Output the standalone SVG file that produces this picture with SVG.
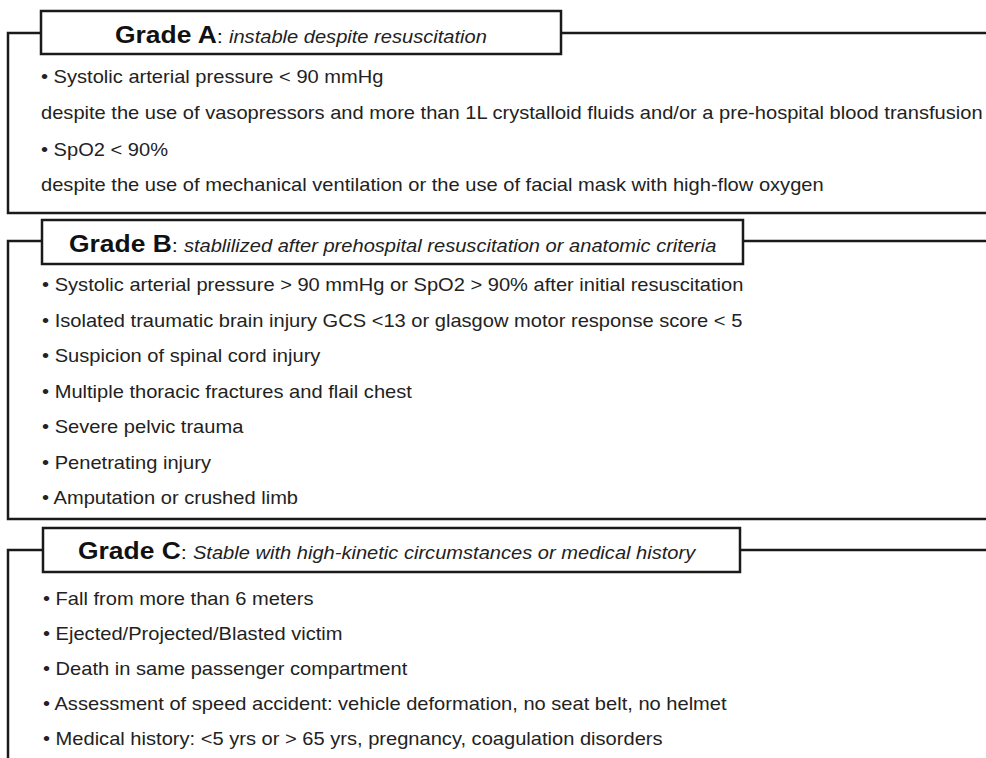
<svg xmlns="http://www.w3.org/2000/svg" width="986" height="758" viewBox="0 0 986 758">
  <style>
    .frame { fill: none; stroke: #1a1a1a; stroke-width: 2.5; }
    .box { fill: #ffffff; stroke: #1a1a1a; stroke-width: 2.5; }
    .item { font-family: "Liberation Sans", Arial, sans-serif; font-size: 17.5px; fill: #222222; }
    .grade { font-family: "Liberation Sans", Arial, sans-serif; font-size: 23px; font-weight: bold; fill: #111111; }
    .colon { font-family: "Liberation Sans", Arial, sans-serif; font-size: 19px; fill: #111111; }
    .desc { font-family: "Liberation Sans", Arial, sans-serif; font-size: 17.5px; font-style: italic; fill: #222222; }
  </style>

  <rect width="986" height="758" fill="#ffffff"/>

  <!-- brackets and rules joining the grade panels -->
  <g id="connectors">
    <path class="frame" d="M41 33 H8 V213 H986"/>
    <path class="frame" d="M561 33 H986"/>
    <path class="frame" d="M42 241 H8 V519 H986"/>
    <path class="frame" d="M743 241 H986"/>
    <path class="frame" d="M43 550 H8 V758"/>
    <path class="frame" d="M740 550 H986"/>
  </g>

  <!-- Grade A -->
  <g id="grade-a">
    <rect class="box" x="41" y="11" width="520" height="43"/>
    <g transform="scale(1.149 1)">
      <text x="100.1" y="43"><tspan class="grade">Grade A</tspan><tspan class="colon">: </tspan><tspan class="desc">instable despite resuscitation</tspan></text>
      <text class="item" x="35.7" y="83">• Systolic arterial pressure &lt; 90 mmHg</text>
      <text class="item" x="35.7" y="119">despite the use of vasopressors and more than 1L crystalloid fluids and/or a pre-hospital blood transfusion</text>
      <text class="item" x="35.7" y="156">• SpO2 &lt; 90%</text>
      <text class="item" x="35.7" y="191">despite the use of mechanical ventilation or the use of facial mask with high-flow oxygen</text>
    </g>
  </g>

  <!-- Grade B -->
  <g id="grade-b">
    <rect class="box" x="42" y="220" width="701" height="44"/>
    <g transform="scale(1.149 1)">
      <text x="60.05" y="252"><tspan class="grade">Grade B</tspan><tspan class="colon">: </tspan><tspan class="desc">stablilized after prehospital resuscitation or anatomic criteria</tspan></text>
      <text class="item" x="36.6" y="291">• Systolic arterial pressure &gt; 90 mmHg or SpO2 &gt; 90% after initial resuscitation</text>
      <text class="item" x="36.6" y="327">• Isolated traumatic brain injury GCS &lt;13 or glasgow motor response score &lt; 5</text>
      <text class="item" x="36.6" y="362">• Suspicion of spinal cord injury</text>
      <text class="item" x="36.6" y="398">• Multiple thoracic fractures and flail chest</text>
      <text class="item" x="36.6" y="433">• Severe pelvic trauma</text>
      <text class="item" x="36.6" y="469">• Penetrating injury</text>
      <text class="item" x="36.6" y="504">• Amputation or crushed limb</text>
    </g>
  </g>

  <!-- Grade C -->
  <g id="grade-c">
    <rect class="box" x="43" y="528" width="697" height="44"/>
    <g transform="scale(1.149 1)">
      <text x="67.9" y="559"><tspan class="grade">Grade C</tspan><tspan class="colon">: </tspan><tspan class="desc">Stable with high-kinetic circumstances or medical history</tspan></text>
      <text class="item" x="37.4" y="605">• Fall from more than 6 meters</text>
      <text class="item" x="37.4" y="640">• Ejected/Projected/Blasted victim</text>
      <text class="item" x="37.4" y="675">• Death in same passenger compartment</text>
      <text class="item" x="37.4" y="710">• Assessment of speed accident: vehicle deformation, no seat belt, no helmet</text>
      <text class="item" x="37.4" y="745">• Medical history: &lt;5 yrs or &gt; 65 yrs, pregnancy, coagulation disorders</text>
    </g>
  </g>
</svg>
